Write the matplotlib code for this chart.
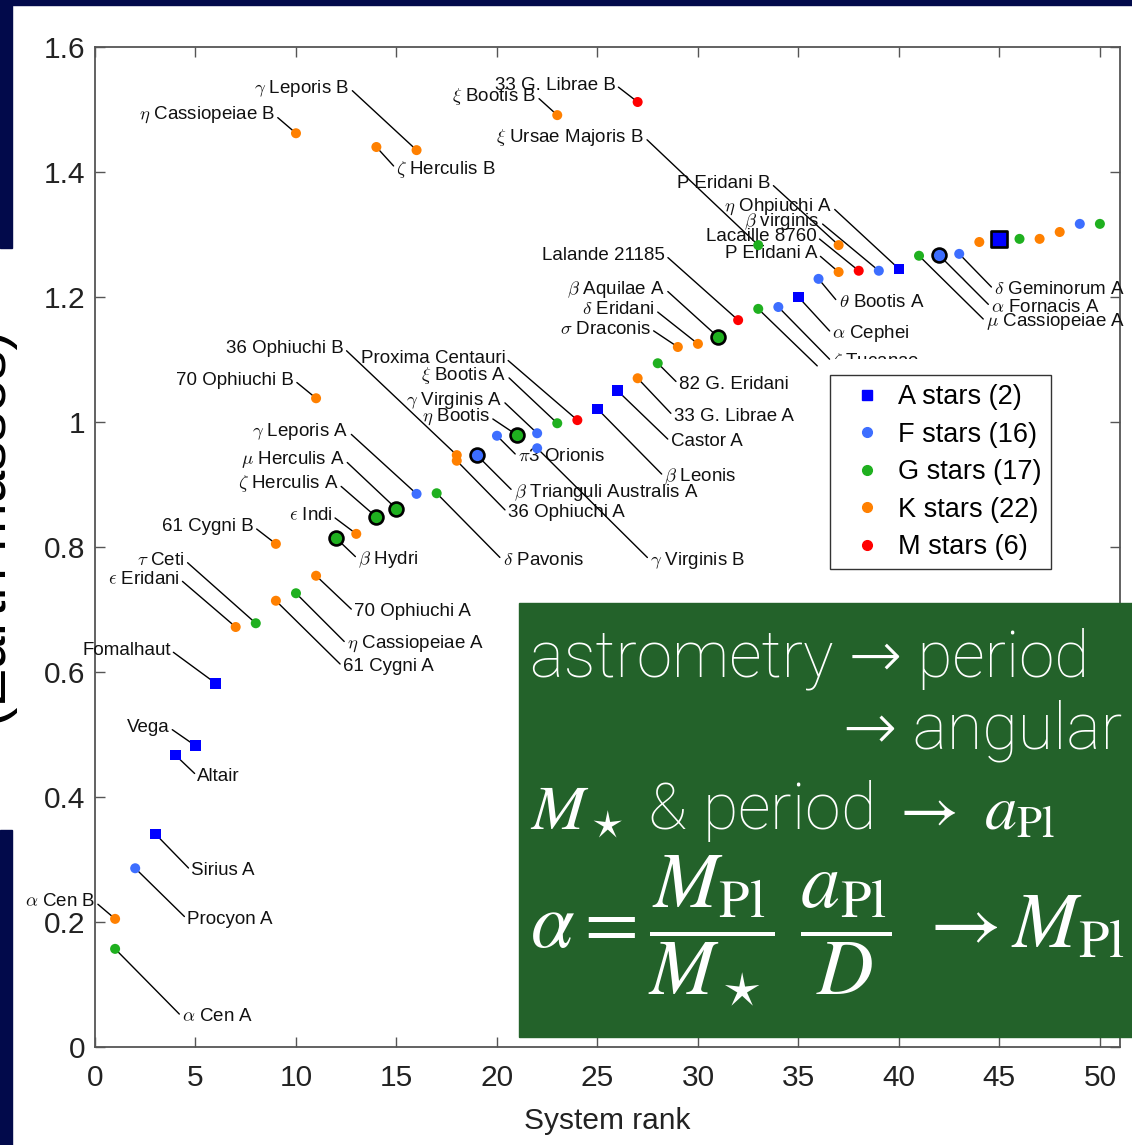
import matplotlib
matplotlib.use("Agg")
import matplotlib.pyplot as plt
from matplotlib.patches import Rectangle
from matplotlib.lines import Line2D
from matplotlib.transforms import Bbox, TransformedBbox

plt.rcParams['font.family'] = ['Liberation Sans', 'DejaVu Sans']
plt.rcParams['mathtext.fontset'] = 'cm'

# ---------------- data ----------------
names = [r"$\alpha$ Cen A", r"$\alpha$ Cen B", "Procyon A", "Sirius A", "Altair", "Vega",
         "Fomalhaut", r"$\epsilon$ Eridani", r"$\tau$ Ceti", "61 Cygni A", "61 Cygni B",
         r"$\eta$ Cassiopeiae A", r"$\eta$ Cassiopeiae B", "70 Ophiuchi A", "70 Ophiuchi B",
         r"$\beta$ Hydri", r"$\epsilon$ Indi", r"$\zeta$ Herculis A", r"$\zeta$ Herculis B",
         r"$\mu$ Herculis A", r"$\gamma$ Leporis A", r"$\gamma$ Leporis B", r"$\delta$ Pavonis",
         "36 Ophiuchi A", "36 Ophiuchi B", r"$\beta$ Trianguli Australis A", r"$\pi$3 Orionis",
         r"$\eta$ Bootis", r"$\gamma$ Virginis A", r"$\gamma$ Virginis B", r"$\xi$ Bootis A",
         r"$\xi$ Bootis B", "Proxima Centauri", r"$\beta$ Leonis", "Castor A", "33 G. Librae A",
         "33 G. Librae B", "82 G. Eridani", r"$\sigma$ Draconis", r"$\delta$ Eridani",
         r"$\beta$ Aquilae A", "Lalande 21185", r"$\xi$ Ursae Majoris A", r"$\xi$ Ursae Majoris B",
         r"$\zeta$ Tucanae", r"$\alpha$ Cephei", r"$\theta$ Bootis A", "P Eridani A", "P Eridani B",
         "Lacaille 8760", r"$\beta$ virginis", r"$\eta$ Ohpiuchi A", r"$\mu$ Cassiopeiae A",
         r"$\alpha$ Fornacis A", r"$\delta$ Geminorum A", "", "", "", "", "", "", ""]
rank = [1, 1, 2, 3, 4, 5, 6, 7, 8, 9, 9, 10, 10, 11, 11, 12, 13, 14, 14, 15, 16, 16, 17,
        18, 18, 19, 20, 21, 22, 22, 23, 23, 24, 25, 26, 27, 27, 28, 29, 30, 31, 32, 33, 33,
        34, 35, 36, 37, 37, 38, 39, 40, 41, 42, 43, 44, 45, 46, 47, 48, 49, 50]
mass = [0.157, 0.205, 0.286, 0.341, 0.467, 0.482, 0.582, 0.672, 0.678, 0.714, 0.805,
        0.726, 1.462, 0.754, 1.038, 0.814, 0.821, 0.848, 1.440, 0.861, 0.885, 1.435, 0.886,
        0.938, 0.947, 0.947, 0.978, 0.979, 0.982, 0.958, 0.998, 1.491, 1.003, 1.021, 1.050,
        1.070, 1.512, 1.094, 1.120, 1.125, 1.136, 1.163, 1.181, 1.283, 1.184, 1.200, 1.229,
        1.240, 1.283, 1.242, 1.242, 1.245, 1.266, 1.267, 1.269, 1.288, 1.293, 1.293, 1.293,
        1.304, 1.317, 1.317]
stype = ['G', 'K', 'F', 'A', 'A', 'A', 'A', 'K', 'G', 'K', 'K', 'G', 'K', 'K', 'K', 'G', 'K',
         'G', 'K', 'G', 'F', 'K', 'G', 'K', 'K', 'F', 'F', 'G', 'F', 'F', 'G', 'K', 'M', 'A',
         'A', 'K', 'M', 'G', 'K', 'K', 'G', 'M', 'G', 'G', 'F', 'A', 'F', 'K', 'K', 'M', 'F',
         'A', 'G', 'F', 'F', 'K', 'A', 'G', 'K', 'K', 'F', 'G']
highlight = [0, 0, 0, 0, 0, 0, 0, 0, 0, 0, 0, 0, 0, 0, 0, 1, 0, 1, 0, 1, 0, 0, 0, 0, 0, 1,
             0, 1, 0, 0, 0, 0, 0, 0, 0, 0, 0, 0, 0, 0, 1, 0, 0, 0, 0, 0, 0, 0, 0, 0, 0, 0,
             0, 1, 0, 0, 1, 0, 0, 0, 0, 0]
legend_labels = ["A stars (2)", "F stars (16)", "G stars (17)", "K stars (22)", "M stars (6)"]
type_order = ['A', 'F', 'G', 'K', 'M']
xticks = [0, 5, 10, 15, 20, 25, 30, 35, 40, 45, 50]
yticks = [0, 0.2, 0.4, 0.6, 0.8, 1.0, 1.2, 1.4, 1.6]
ytick_labels = ["0", "0.2", "0.4", "0.6", "0.8", "1", "1.2", "1.4", "1.6"]

# ---------------- styles / layout ----------------
colors = {'A': '#0000FF', 'F': '#3D6EFF', 'G': '#1FB01F', 'K': '#FF8000', 'M': '#FF0000'}
markers = {'A': 's', 'F': 'o', 'G': 'o', 'K': 'o', 'M': 'o'}
# label offsets in pixels (dx, dy-up, side)
label_layout = [(67, -68, 'lr'), (-20, 17, 'ul'), (52, -51, 'lr'), (36, -37, 'lr'),
                (22, -21, 'lr'), (-26, 18, 'ul'), (-45, 33, 'ul'), (-56, 48, 'ul'),
                (-71, 63, 'ul'), (67, -66, 'lr'), (-22, 17, 'ul'), (51, -51, 'lr'),
                (-21, 18, 'ul'), (38, -36, 'lr'), (-22, 18, 'ul'), (22, -21, 'lr'),
                (-24, 18, 'ul'), (-38, 33, 'ul'), (20, -22, 'lr'), (-52, 49, 'ul'),
                (-68, 62, 'ul'), (-67, 62, 'ul'), (66, -67, 'lr'), (51, -52, 'lr'),
                (-113, 107, 'ul'), (37, -37, 'lr'), (21, -21, 'lr'), (-27, 18, 'ul'),
                (-35, 33, 'ul'), (113, -112, 'lr'), (-51, 48, 'ul'), (-21, 19, 'ul'),
                (-72, 62, 'ul'), (67, -68, 'lr'), (53, -51, 'lr'), (36, -38, 'lr'),
                (-22, 17, 'ul'), (21, -21, 'lr'), (-27, 18, 'ul'), (-43, 34, 'ul'),
                (-53, 48, 'ul'), (-73, 65, 'ul'), (59, -57, 'line'), (-114, 108, 'ul'),
                (54, -55, 'clip'), (34, -37, 'lr'), (20, -24, 'lr'), (-21, 18, 'ul'),
                (-68, 62, 'ul'), (-42, 34, 'ul'), (-59, 49, 'ul'), (-67, 62, 'ul'),
                (67, -66, 'lr'), (52, -52, 'lr'), (35, -36, 'lr'),
                None, None, None, None, None, None, None]

W, H = 1132, 1145
fig = plt.figure(figsize=(W / 100, H / 100), dpi=100)
fig.patch.set_facecolor('white')
ax = fig.add_axes([95 / W, 1 - 1047 / H, (1120 - 95) / W, (1047 - 47) / H])
ax.set_xlim(0, 51)
ax.set_ylim(0, 1.6)
ax.set_xticks(xticks)
ax.set_yticks(yticks)
ax.set_yticklabels(ytick_labels)
ax.tick_params(direction='in', length=7.2, width=1.0, top=True, right=True,
               labelsize=21.5, labelcolor='#222222', color='#555555')
ax.tick_params(axis='y', pad=7)
ax.tick_params(axis='x', pad=12)
for s in ax.spines.values():
    s.set_color('#555555')
    s.set_linewidth(1.3)
ax.set_xlabel("System rank", fontsize=21.5, color='#222222', labelpad=11)

# markers
for t in type_order:
    for hl in (0, 1):
        xs = [r for r, st, h in zip(rank, stype, highlight) if st == t and h == hl]
        ys = [m for m, st, h in zip(mass, stype, highlight) if st == t and h == hl]
        if not xs:
            continue
        if hl:
            ax.scatter(xs, ys, s=125 if t == 'A' else 100, marker=markers[t], c=colors[t],
                       edgecolors='black', linewidths=1.9, zorder=5)
        else:
            ax.scatter(xs, ys, s=58 if t == 'A' else 52, marker=markers[t], c=colors[t],
                       edgecolors='none', zorder=4)

clipbox = TransformedBbox(Bbox([[0, 1 - 359 / H], [1, 1]]), fig.transFigure)
for nm, r, m, lay in zip(names, rank, mass, label_layout):
    if lay is None:
        continue
    dx, dy, side = lay
    if side == 'ul':
        ha, rel = 'right', (1, 0.5)
    else:
        ha, rel = 'left', (0, 0.5)
    txt = '' if side == 'line' else nm
    a = ax.annotate(txt, (r, m), xytext=(dx, dy), textcoords='offset pixels', ha=ha,
                    va='center', fontsize=13.5, color='#111111', zorder=3,
                    arrowprops=dict(arrowstyle='-', color='black', lw=1.0,
                                    shrinkA=0, shrinkB=0, relpos=rel))
    if side == 'clip':
        a.set_clip_box(clipbox)
        a.set_clip_on(True)

handles = [Line2D([], [], ls='', marker=markers[t], color=colors[t],
                  markersize=6.5 if t == 'A' else 7) for t in type_order]
leg = ax.legend(handles, legend_labels, loc='upper left',
                bbox_to_anchor=(830 / W, 1 - 375 / H), bbox_transform=fig.transFigure,
                borderaxespad=0, fontsize=19.5, frameon=True, fancybox=False,
                edgecolor='#333333', framealpha=1, borderpad=0.35, handlelength=2.0,
                handletextpad=0.15, labelspacing=0.42)
leg.get_frame().set_linewidth(1.0)
leg.set_zorder(6)

# slide decorations
navy = '#020A4B'
fig.add_artist(Rectangle((0, 1 - 5 / H), 1, 5 / H, transform=fig.transFigure,
                         color=navy, zorder=20))
fig.add_artist(Rectangle((0, 1 - 248 / H), 12 / W, 248 / H, transform=fig.transFigure,
                         color=navy, zorder=20))
fig.add_artist(Rectangle((0, 0), 12 / W, (H - 830) / H, transform=fig.transFigure,
                         color=navy, zorder=20))
fig.text(6 / W, 1 - 528 / H, "(Earth masses)", rotation=90, rotation_mode='anchor',
         ha='center', va='baseline', fontsize=42, color='black', zorder=19)

# green box
fig.add_artist(Rectangle((519 / W, 1 - 1037 / H), (W - 519) / W, (1037 - 603) / H,
                         transform=fig.transFigure, color='#23622A', zorder=10))
light = dict(family=['Roboto', 'DejaVu Sans'], weight='light', color='white', zorder=11)
t1 = fig.text(530 / W, 1 - 677 / H, "astrometry \u2192 period", va='baseline', ha='left',
              fontsize=46, **light)
t2 = fig.text(1122 / W, 1 - 749 / H, "\u2192 angular", va='baseline', ha='right',
              fontsize=46, **light)
t3 = fig.text(530 / W, 1 - 829 / H, r"$M_\star$ & period $\rightarrow$ $a_\mathrm{Pl}$",
              va='baseline', ha='left', fontsize=46, math_fontfamily='stix', **light)
t4 = fig.text(530 / W, 1 - 931 / H,
              r"$\alpha = \dfrac{M_\mathrm{Pl}}{M_\star}\ \dfrac{a_\mathrm{Pl}}{D}\ \rightarrow M_\mathrm{Pl}$",
              va='center', ha='left', fontsize=46, math_fontfamily='stix', **light)

renderer = fig.canvas.get_renderer()
for t, target in ((t1, 560), (t2, 279), (t3, 525), (t4, 595)):
    for _ in range(2):
        w = t.get_window_extent(renderer).width
        t.set_fontsize(t.get_fontsize() * target / w)

fig.savefig("out.png", dpi=100, facecolor='white')
